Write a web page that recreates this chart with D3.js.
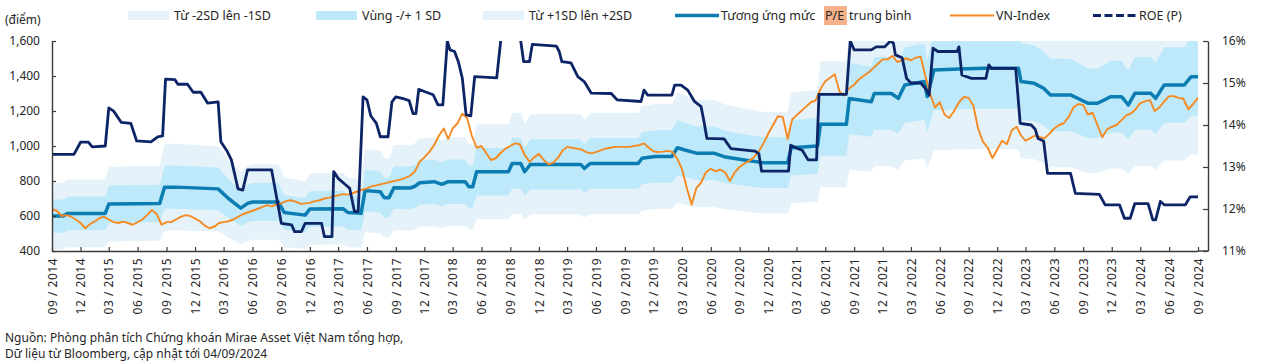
<!DOCTYPE html>
<html>
<head>
<meta charset="utf-8">
<script src="https://cdn.jsdelivr.net/npm/d3@7"></script>
<style>
body { margin: 0; background: #fff; }
text { font-family: "Noto Sans", sans-serif; fill: #262626; }
</style>
</head>
<body>
<div id="chart"></div>
<script>
// Data (months counted from 09/2014, fractional = part of month)
//-------------------------------------------------------
// P/E average line and its standard deviation, in index points: [month, mean, sd]
var peBand = [
    [0, 600, 95], [1.2, 600, 95], [1.6, 615, 97], [5.6, 615, 97], [6.0, 668, 107],
    [11.3, 672, 107], [11.8, 765, 124], [13, 765, 124], [17.4, 755, 122], [18.5, 700, 112],
    [19.8, 645, 103], [20.5, 672, 107], [21, 680, 108], [23.7, 680, 108], [24.3, 620, 99],
    [26.5, 605, 97], [27, 640, 102], [30.5, 642, 102], [31.0, 620, 99], [32.4, 615, 98],
    [32.8, 745, 119], [34.4, 738, 118], [34.8, 705, 113], [35.3, 705, 113], [35.8, 762, 122],
    [37.5, 760, 122], [38, 770, 123], [38.5, 790, 126], [40, 796, 127], [40.8, 781, 125],
    [41.5, 796, 127], [43.3, 796, 127], [43.7, 767, 123], [44.1, 767, 123], [44.5, 853, 136],
    [47.8, 853, 136], [48.2, 900, 144], [49.1, 900, 144], [49.5, 853, 136], [50.1, 895, 143],
    [55.4, 895, 143], [55.8, 872, 140], [56.4, 900, 144], [61.4, 900, 144], [61.8, 930, 149],
    [63.2, 940, 150], [64.9, 940, 150], [65.5, 990, 158], [66.3, 977, 156], [67.6, 958, 153],
    [69.4, 958, 153], [70.4, 939, 150], [72.5, 920, 147], [74.4, 905, 145], [77.0, 905, 145],
    [77.4, 990, 158], [80.2, 1000, 160], [80.5, 1124, 180], [83.2, 1124, 180], [83.5, 1272, 204],
    [85.8, 1253, 200], [86.1, 1300, 208], [87.9, 1300, 208], [88.6, 1272, 204], [89.3, 1349, 216],
    [91.4, 1368, 219], [91.7, 1282, 205], [92.4, 1434, 229], [95, 1440, 230], [97.7, 1444, 231],
    [101.2, 1444, 231], [101.5, 1368, 219], [102.9, 1358, 217], [103.9, 1330, 213], [104.6, 1292, 207],
    [106.7, 1292, 207], [107.8, 1263, 202], [108.5, 1244, 199], [109.5, 1244, 199], [110.2, 1263, 202],
    [110.9, 1282, 205], [112, 1282, 205], [112.3, 1263, 202], [112.7, 1234, 197], [113.4, 1301, 208],
    [115.1, 1301, 208], [115.6, 1272, 204], [116.5, 1349, 216], [118.6, 1349, 216], [119.3, 1396, 223],
    [120, 1396, 223]
];

// VN-Index, twice a month from 09/2014
var vnIndex = [
    640, 630, 600, 605, 596, 580, 560, 530, 555, 570, 590, 595, 580, 565, 560, 568, 560, 550, 565, 580,
    605, 635, 610, 550, 565, 565, 580, 595, 605, 600, 585, 570, 545, 530, 540, 560, 565, 570, 580, 595,
    610, 620, 630, 640, 650, 662, 655, 665, 672, 685, 690, 682, 670, 672, 675, 685, 690, 700, 705, 712,
    718, 725, 722, 730, 740, 750, 758, 770, 775, 782, 788, 796, 802, 808, 818, 830, 855, 910, 935, 965,
    1005, 1060, 1100, 1040, 1100, 1130, 1185, 1160, 1060, 990, 1000, 960, 920, 930, 960, 985, 1000, 1015, 1010, 950,
    910, 935, 955, 920, 895, 905, 935, 975, 995, 990, 985, 980, 965, 958, 965, 975, 985, 990, 995, 995,
    995, 995, 1000, 1005, 1015, 990, 970, 965, 968, 972, 965, 925, 870, 760, 665, 760, 790, 850, 870, 855,
    865, 850, 800, 850, 880, 900, 915, 935, 970, 1015, 1070, 1120, 1170, 1165, 1040, 1150, 1175, 1200, 1225, 1250,
    1260, 1325, 1370, 1390, 1410, 1310, 1290, 1330, 1350, 1380, 1400, 1420, 1445, 1470, 1495, 1495, 1515, 1480, 1490, 1500,
    1490, 1505, 1510, 1400, 1300, 1220, 1250, 1180, 1160, 1200, 1250, 1280, 1275, 1230, 1100, 1025, 990, 930, 980, 1030,
    1010, 1090, 1110, 1060, 1030, 1045, 1060, 1050, 1045, 1070, 1100, 1120, 1130, 1165, 1220, 1240, 1235, 1180, 1190, 1120,
    1050, 1095, 1110, 1120, 1148, 1175, 1187, 1210, 1245, 1255, 1262, 1200, 1220, 1255, 1285, 1285, 1275, 1270, 1210, 1240,
    1275
];

// ROE (P), percent: [month, value]
var roe = [
    [0, 13.30], [2.3, 13.30], [3.0, 13.59], [3.8, 13.59], [4.2, 13.48], [5.6, 13.50], [6.0, 14.41],
    [6.5, 14.33], [7.3, 14.06], [8.3, 14.04], [8.9, 13.62], [10.4, 13.60], [11.1, 13.72], [11.6, 13.74],
    [11.9, 15.09], [12.9, 15.08], [13.2, 14.97], [14.2, 14.97], [14.8, 14.78], [15.6, 14.78], [16.3, 14.52],
    [17.4, 14.55], [17.7, 13.60], [18.3, 13.40], [18.8, 13.17], [19.5, 12.48], [20.0, 12.45], [20.5, 12.93],
    [23.0, 12.93], [24.0, 11.66], [25.1, 11.62], [25.4, 11.46], [26.1, 11.46], [26.5, 11.66], [28.2, 11.66],
    [28.5, 11.34], [29.3, 11.34], [29.5, 12.89], [30.0, 12.73], [30.8, 12.57], [31.2, 12.49], [31.7, 11.94],
    [32.1, 11.94], [32.6, 14.67], [33.0, 14.60], [33.4, 14.22], [34.0, 14.04], [34.4, 13.72], [35.2, 13.72],
    [35.6, 14.55], [36.0, 14.67], [36.9, 14.62], [37.4, 14.58], [37.8, 14.27], [38.1, 14.27], [38.4, 14.85],
    [39.2, 14.78], [39.9, 14.72], [40.4, 14.48], [40.9, 14.48], [41.4, 16.00], [41.7, 15.79], [42.2, 15.75],
    [42.6, 15.50], [43.0, 15.11], [43.4, 14.24], [43.9, 14.22], [44.3, 15.15], [46.6, 15.12], [47.1, 16.20],
    [47.5, 16.70], [48.6, 16.70], [49.1, 16.00], [49.4, 15.51], [50.0, 15.51], [50.3, 15.92], [52.8, 15.88],
    [53.1, 15.75], [53.4, 15.51], [54.4, 15.48], [55.1, 15.15], [55.8, 15.03], [56.5, 14.76], [58.6, 14.75],
    [59.2, 14.60], [61.7, 14.56], [62.0, 14.83], [62.4, 14.71], [64.9, 14.71], [65.2, 14.95], [65.9, 14.95],
    [66.6, 14.83], [67.3, 14.56], [68.0, 14.44], [68.3, 14.08], [68.6, 13.68], [70.4, 13.67], [71.1, 13.44],
    [73.6, 13.38], [74.0, 13.32], [74.3, 12.90], [77.1, 12.90], [77.35, 13.52], [78.1, 13.44], [78.6, 13.40],
    [79.2, 13.17], [80.1, 13.17], [80.35, 14.73], [83.2, 14.73], [83.6, 16.00], [84.0, 15.79], [85.8, 15.79],
    [86.3, 15.86], [87.2, 15.86], [87.8, 16.00], [88.1, 15.95], [88.3, 15.67], [89.0, 15.60], [89.5, 15.11],
    [90.0, 15.00], [91.0, 15.00], [91.5, 14.87], [91.9, 14.71], [92.3, 15.83], [92.8, 15.75], [94.8, 15.75],
    [95.0, 15.86], [95.3, 15.19], [96.3, 15.11], [97.8, 15.11], [98.1, 15.43], [98.4, 15.35], [100.9, 15.35],
    [101.4, 14.04], [102.6, 14.00], [103.0, 13.90], [103.3, 13.68], [103.9, 13.62], [104.3, 12.85], [106.7, 12.85],
    [107.2, 12.37], [109.7, 12.35], [110.3, 12.10], [111.8, 12.10], [112.3, 11.78], [112.9, 11.78], [113.4, 12.13],
    [114.8, 12.13], [115.3, 11.74], [115.6, 11.74], [116.1, 12.18], [116.5, 12.10], [118.7, 12.10], [119.2, 12.29],
    [120, 12.29]
];

var leftTicks = [400, 600, 800, 1000, 1200, 1400, 1600];
var rightTicks = [11, 12, 13, 14, 15, 16];
var quarterTicks = d3.range(0, 121, 3);

var legendItems = [
    { type: "rect", color: "#e5f2fa", x: 128, label: "Từ -2SD lên -1SD" },
    { type: "rect", color: "#bde9fa", x: 316, label: "Vùng -/+ 1 SD" },
    { type: "rect", color: "#e5f2fa", x: 483, label: "Từ +1SD lên +2SD" },
    { type: "line", color: "#0b7db3", x: 675, label: "Tương ứng mức", width: 3.5 },
    { type: "line", color: "#f58a22", x: 950, label: "VN-Index", width: 1.8 },
    { type: "dash", color: "#0d2566", x: 1093, label: "ROE (P)", width: 3 }
];

// Set up SVG
//-------------------------------------------------------
var svgWidth = 1263;
var svgHeight = 362;

var margin = { top: 41, left: 52, right: 1198, bottom: 251 };

var svg = d3.select("#chart")
    .append("svg")
    .attr("width", svgWidth)
    .attr("height", svgHeight);

var start = new Date(2014, 8, 1);
function monthToDate(m) {
    var base = d3.timeMonth.offset(start, Math.floor(m));
    var next = d3.timeMonth.offset(base, 1);
    return new Date(+base + (m - Math.floor(m)) * (next - base));
}

var x = d3.scaleTime()
    .domain([start, monthToDate(120)])
    .range([margin.left, margin.right]);

var yLeft = d3.scaleLinear().domain([400, 1600]).range([margin.bottom, margin.top]);
var yRight = d3.scaleLinear().domain([11, 16]).range([margin.bottom, margin.top]);

svg.append("clipPath").attr("id", "plot-clip")
    .append("rect")
    .attr("x", margin.left)
    .attr("y", margin.top)
    .attr("width", margin.right - margin.left + 2)
    .attr("height", margin.bottom - margin.top);

var plot = svg.append("g").attr("clip-path", "url(#plot-clip)");

// Bands
//-------------------------------------------------------
var outerArea = d3.area()
    .x(d => x(monthToDate(d[0])))
    .y0(d => yLeft(d[1] - 2 * d[2]))
    .y1(d => yLeft(d[1] + 2 * d[2]));

var innerArea = d3.area()
    .x(d => x(monthToDate(d[0])))
    .y0(d => yLeft(d[1] - d[2]))
    .y1(d => yLeft(d[1] + d[2]));

plot.append("path").datum(peBand).attr("d", outerArea).attr("fill", "#e5f2fa");
plot.append("path").datum(peBand).attr("d", innerArea).attr("fill", "#bde9fa");

// Lines
//-------------------------------------------------------
var meanLine = d3.line()
    .x(d => x(monthToDate(d[0])))
    .y(d => yLeft(d[1]));

plot.append("path").datum(peBand)
    .attr("d", meanLine)
    .attr("fill", "none")
    .attr("stroke", "#0b7db3")
    .attr("stroke-width", 3.5)
    .attr("stroke-linejoin", "round");

var vnLine = d3.line()
    .x((d, i) => x(monthToDate(i / 2)))
    .y(d => yLeft(d));

plot.append("path").datum(vnIndex)
    .attr("d", vnLine)
    .attr("fill", "none")
    .attr("stroke", "#f58a22")
    .attr("stroke-width", 1.9)
    .attr("stroke-linejoin", "round");

var roeLine = d3.line()
    .x(d => x(monthToDate(d[0])))
    .y(d => yRight(d[1]));

plot.append("path").datum(roe)
    .attr("d", roeLine)
    .attr("fill", "none")
    .attr("stroke", "#0d2566")
    .attr("stroke-width", 2.8)
    .attr("stroke-linejoin", "round");

// Axes
//-------------------------------------------------------
var axisColor = "#3a3a3a";

var leftAxis = d3.axisLeft(yLeft)
    .tickValues(leftTicks)
    .tickFormat(d3.format(","))
    .tickSizeInner(-4)
    .tickSizeOuter(0)
    .tickPadding(12);

var gLeft = svg.append("g")
    .attr("transform", `translate(${margin.left},0)`)
    .call(leftAxis);

var rightAxis = d3.axisRight(yRight)
    .tickValues(rightTicks)
    .tickFormat(d => d + "%")
    .tickSizeInner(-5)
    .tickSizeOuter(0)
    .tickPadding(14);

var gRight = svg.append("g")
    .attr("transform", `translate(${margin.right + 10},0)`)
    .call(rightAxis);

var bottomAxis = d3.axisBottom(x)
    .tickValues(quarterTicks.map(monthToDate))
    .tickFormat(d3.timeFormat("%m / %Y"))
    .tickSizeInner(-4)
    .tickSizeOuter(0);

var gBottom = svg.append("g")
    .attr("transform", `translate(0,${margin.bottom})`)
    .call(bottomAxis);

gBottom.selectAll("text")
    .attr("transform", "rotate(-90)")
    .attr("x", -7)
    .attr("y", 0)
    .attr("dy", "0.35em")
    .style("text-anchor", "end")
    .style("font-size", "12px")
    .style("letter-spacing", "0.5px");

[gLeft, gRight].forEach(g => g.selectAll("text").style("font-size", "12px"));

[gLeft, gRight, gBottom].forEach(g => {
    g.select(".domain").attr("stroke", axisColor).attr("stroke-width", 1.4);
    g.selectAll(".tick line").attr("stroke", axisColor).attr("stroke-width", 1.2);
    g.selectAll("text").attr("fill", "#262626").style("font-family", "'Noto Sans', sans-serif");
});

// extend the bottom axis line to the right axis
svg.append("line")
    .attr("x1", margin.right).attr("x2", margin.right + 10)
    .attr("y1", margin.bottom).attr("y2", margin.bottom)
    .attr("stroke", axisColor).attr("stroke-width", 1.4);

svg.append("text")
    .attr("x", 5).attr("y", 24)
    .style("font-size", "12px")
    .text("(điểm)");

// Legend
//-------------------------------------------------------
var legend = svg.append("g");

legendItems.forEach(item => {
    if (item.type === "rect") {
        legend.append("rect")
            .attr("x", item.x).attr("y", 11)
            .attr("width", 41).attr("height", 9)
            .attr("fill", item.color);
    } else {
        legend.append("line")
            .attr("x1", item.x).attr("x2", item.x + 44)
            .attr("y1", 15.5).attr("y2", 15.5)
            .attr("stroke", item.color)
            .attr("stroke-width", item.width)
            .attr("stroke-dasharray", item.type === "dash" ? "8,3.5" : null);
    }
    legend.append("text")
        .attr("x", item.x + 46).attr("y", 20)
        .style("font-size", "12.5px")
        .text(item.label);
});

// P/E highlighted part of the mean-line legend
legend.append("rect")
    .attr("x", 824).attr("y", 6)
    .attr("width", 23).attr("height", 19)
    .attr("fill", "#f4b18a");
legend.append("text").attr("x", 825).attr("y", 20).style("font-size", "12.5px").text("P/E");
legend.append("text").attr("x", 849).attr("y", 20).style("font-size", "12.5px").text("trung bình");

// Source
//-------------------------------------------------------
svg.append("text").attr("x", 5).attr("y", 342).style("font-size", "12px")
    .text("Nguồn: Phòng phân tích Chứng khoán Mirae Asset Việt Nam tổng hợp,");
svg.append("text").attr("x", 5).attr("y", 358).style("font-size", "12px")
    .text("Dữ liệu từ Bloomberg, cập nhật tới 04/09/2024");
</script>
</body>
</html>
